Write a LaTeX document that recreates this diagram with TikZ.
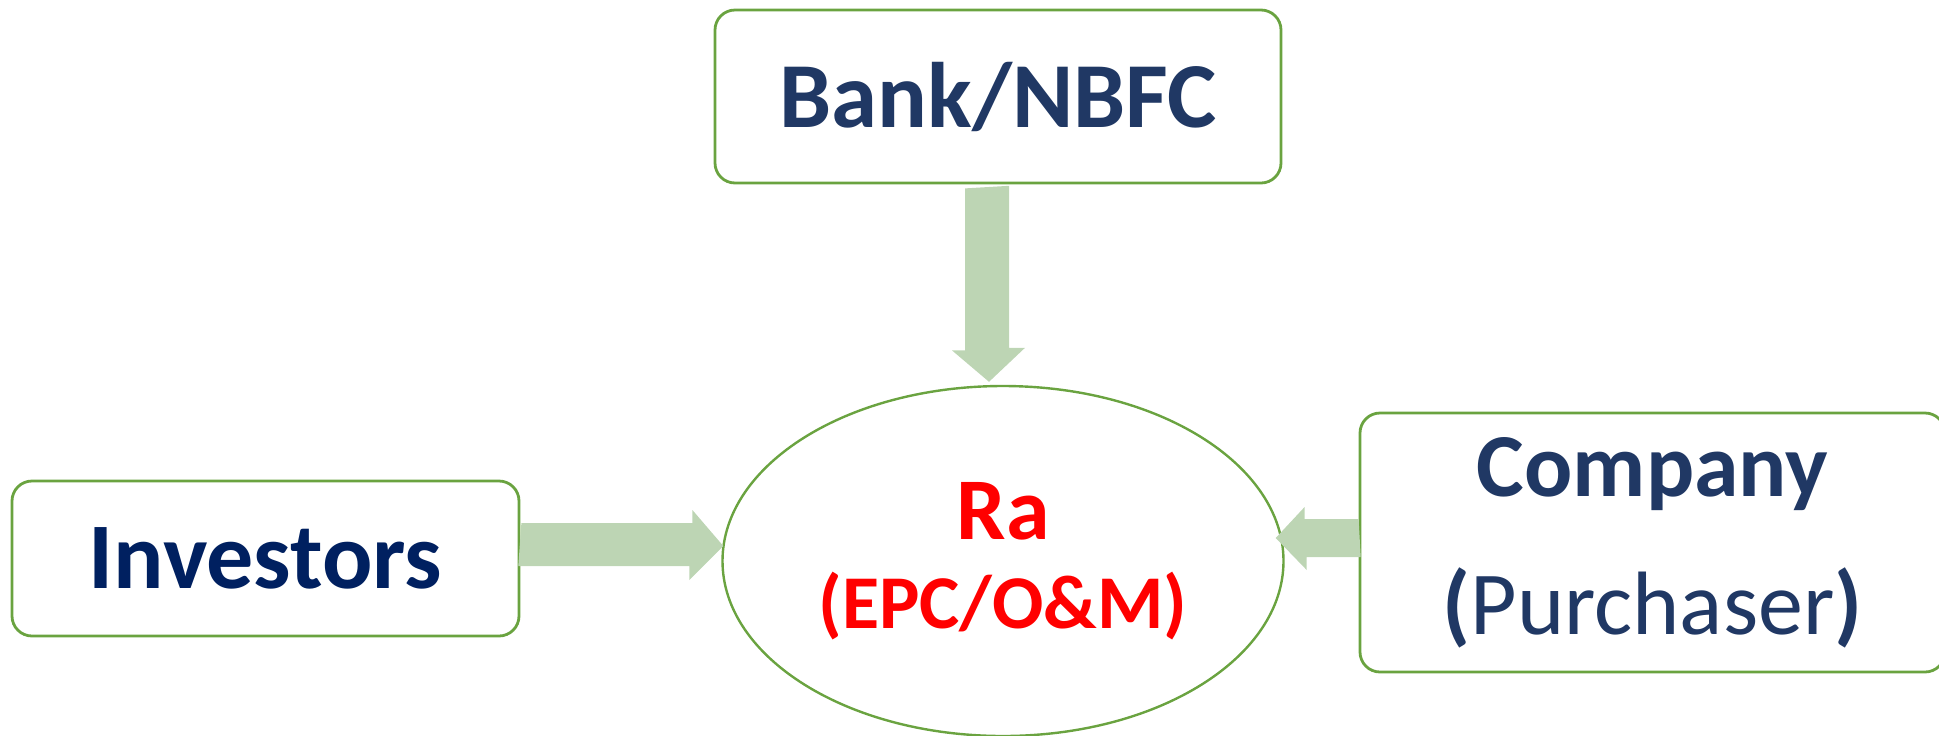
\documentclass[tikz,border=0pt]{standalone}
\usepackage{fontspec}
\setmainfont{Carlito}
\usetikzlibrary{shapes.geometric,positioning}
\definecolor{boxgreen}{RGB}{106,163,64}
\definecolor{flowgreen}{RGB}{189,213,180}
\definecolor{navy}{RGB}{32,56,100}
\definecolor{invnavy}{RGB}{0,32,96}

\begin{document}
\begin{tikzpicture}[x=0.5pt,y=-0.5pt,
        party/.style = {draw=boxgreen, line width=1.4pt, rounded corners=10pt, inner sep=0pt, align=center, text=navy},
        hub/.style = {draw=boxgreen, line width=1.2pt, ellipse, inner sep=0pt, align=center, text=red, minimum width=280.5pt, minimum height=175pt},
        flow/.style = {fill=flowgreen},]
    \useasboundingbox (0,0) rectangle (1939,735);

    \node[party, minimum width=283pt, minimum height=86.5pt, font=\fontsize{46.5}{56}\selectfont\bfseries] (bank) at (998,96.5) {Bank/NBFC};
    \node[party, text=invnavy, minimum width=253.5pt, minimum height=77.5pt, font=\fontsize{47}{56}\selectfont\bfseries] (inv) at (265.5,558.5) {Investors};
    \node[party, minimum width=292.5pt, minimum height=129.5pt, font=\fontsize{45}{69}\selectfont] (comp) at (1652.5,542.5) {\textbf{Company}\\\textbf{(}Purchaser\textbf{)}};
    \node[hub, font=\bfseries] (ra) at (1003,561) {\fontsize{44}{44}\selectfont Ra\\[15pt]\fontsize{38}{43.5}\selectfont (EPC/O\&M)};

    % block arrows into the hub
    \fill[flow] ([shift={(-33,4)}]bank.south) -- ++(0,162) -- ++(-13,0) -- ([shift={(-14,-3)}]ra.north)
        -- ++(36,-34) -- ++(-16,0) -- ++(0,-162) -- cycle;
    \fill[flow] ([shift={(1,-35.5)}]inv.east) -- ++(171,0) -- ++(0,-13) -- ([shift={(2,-15)}]ra.west)
        -- ++(-34,34) -- ++(0,-14) -- ++(-171,0) -- cycle;
    \fill[flow] ([shift={(0,-23.5)}]comp.west) -- ++(-54,0) -- ++(0,-12) -- ([shift={(-9,-23)}]ra.east)
        -- ++(31,32) -- ++(0,-13) -- ++(54,0) -- cycle;
\end{tikzpicture}
\end{document}
